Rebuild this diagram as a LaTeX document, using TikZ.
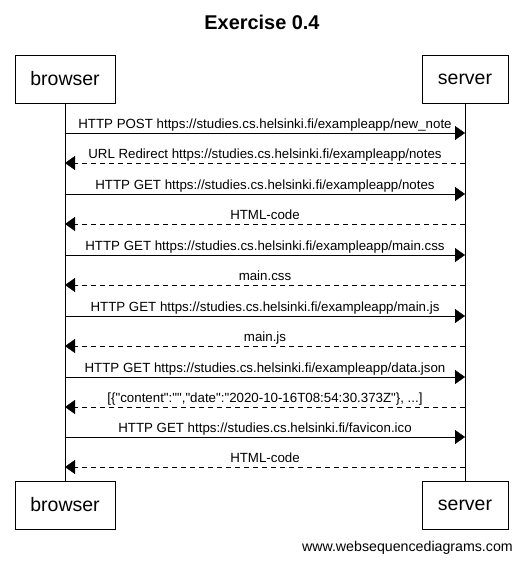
\documentclass[tikz,border=0pt]{standalone}
\usepackage{fontspec}
\setmainfont{Liberation Sans}
\newfontfamily\seqfont{Liberation Sans}
\usetikzlibrary{arrows.meta}
\tikzset{
	actor/.style={draw, minimum width=#1, minimum height=48pt, inner sep=0pt, font=\fontsize{19.5}{24}\selectfont},
	msg/.style={-{Triangle[length=10pt,width=14pt]}},
	reply/.style={msg, dash pattern=on 5pt off 4pt},
	lbl/.style={anchor=south, inner sep=1.5pt, text depth=2.5pt, font=\seqfont\fontsize{13.3}{15}\selectfont}
}

\begin{document}
\begin{tikzpicture}[x=1pt, y=-1pt]
			%%%%% START %%%%%
			\useasboundingbox (0, 0) rectangle (523, 563);
			
			\node[font=\bfseries\fontsize{19.9}{23}\selectfont] (title) at (262, 22) {Exercise 0.4};
			
			\node[actor=100pt] (browserTop) at (65, 79) {browser};
			\node[actor=86pt] (serverTop) at (465, 79) {server};
			\node[actor=100pt] (browserBot) at (65, 505) {browser};
			\node[actor=86pt] (serverBot) at (465, 505) {server};
			
			\draw (browserTop) -- (browserBot);
			\draw (serverTop) -- (serverBot);
			
			\foreach \i/\y in {1/133, 2/163, 3/194, 4/224, 5/255, 6/285, 7/316, 8/346, 9/377, 10/407, 11/437, 12/467}
			{
				\coordinate (b\i) at (65, \y);
				\coordinate (s\i) at (465, \y);
			}
			
			\draw[msg] (b1) -- node[lbl] {HTTP POST https://studies.cs.helsinki.fi/exampleapp/new\_note} (s1);
			\draw[reply] (s2) -- node[lbl] {URL Redirect https://studies.cs.helsinki.fi/exampleapp/notes} (b2);
			\draw[msg] (b3) -- node[lbl] {HTTP GET https://studies.cs.helsinki.fi/exampleapp/notes} (s3);
			\draw[reply] (s4) -- node[lbl] {HTML-code} (b4);
			\draw[msg] (b5) -- node[lbl] {HTTP GET https://studies.cs.helsinki.fi/exampleapp/main.css} (s5);
			\draw[reply] (s6) -- node[lbl] {main.css} (b6);
			\draw[msg] (b7) -- node[lbl] {HTTP GET https://studies.cs.helsinki.fi/exampleapp/main.js} (s7);
			\draw[reply] (s8) -- node[lbl] {main.js} (b8);
			\draw[msg] (b9) -- node[lbl] {HTTP GET https://studies.cs.helsinki.fi/exampleapp/data.json} (s9);
			\draw[reply] (s10) -- node[lbl] {[\{"content":"","date":"2020-10-16T08:54:30.373Z"\}, ...]} (b10);
			\draw[msg] (b11) -- node[lbl] {HTTP GET https://studies.cs.helsinki.fi/favicon.ico} (s11);
			\draw[reply] (s12) -- node[lbl] {HTML-code} (b12);
			
			\node[anchor=east, inner sep=0pt, font=\fontsize{14.2}{16}\selectfont] (watermark) at (513, 548) {www.websequencediagrams.com};
			%%%%% END %%%%%
\end{tikzpicture}
\end{document}
